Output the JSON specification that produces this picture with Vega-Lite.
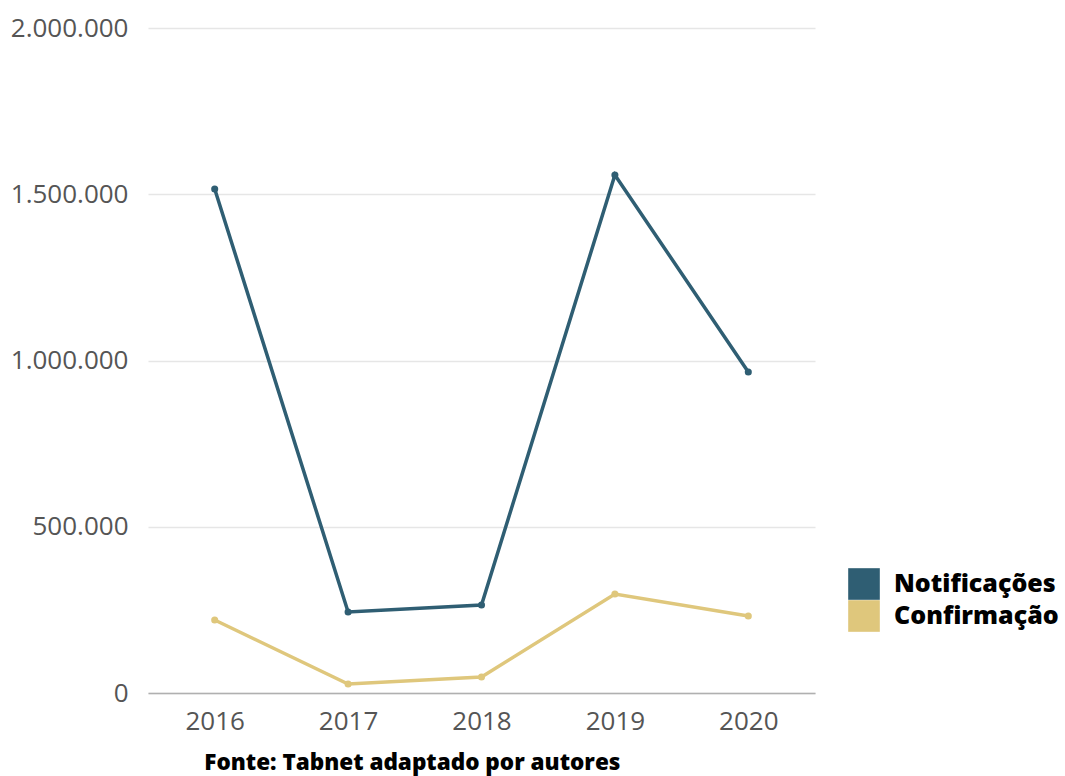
{
  "$schema": "https://vega.github.io/schema/vega-lite/v6.json",
  "width": 667,
  "height": 665,
  "autosize": "none",
  "padding": {"left": 148, "top": 28, "right": 250, "bottom": 83},
  "background": "white",
  "config": {
    "locale": {"number": {"decimal": ",", "thousands": ".", "grouping": [3], "currency": ["R$", ""]}},
    "font": "Open Sans",
    "view": {"stroke": null}
  },
  "title": {
    "text": "Fonte: Tabnet adaptado por autores",
    "orient": "bottom",
    "anchor": "start",
    "dx": 194,
    "offset": 18,
    "font": "Open Sans",
    "fontSize": 22.5,
    "fontWeight": 800,
    "color": "#000000"
  },
  "data": {
    "values": [
      {"ano": "2016", "serie": "Notificações", "valor": 1516000},
      {"ano": "2017", "serie": "Notificações", "valor": 243600},
      {"ano": "2018", "serie": "Notificações", "valor": 264700},
      {"ano": "2019", "serie": "Notificações", "valor": 1558000},
      {"ano": "2020", "serie": "Notificações", "valor": 965400},
      {"ano": "2016", "serie": "Confirmação", "valor": 219500},
      {"ano": "2017", "serie": "Confirmação", "valor": 27000},
      {"ano": "2018", "serie": "Confirmação", "valor": 48100},
      {"ano": "2019", "serie": "Confirmação", "valor": 297700},
      {"ano": "2020", "serie": "Confirmação", "valor": 231600}
    ]
  },
  "encoding": {
    "x": {
      "field": "ano", "type": "ordinal",
      "scale": {"type": "point", "padding": 0.5},
      "axis": {"title": null, "labelAngle": 0, "ticks": false, "domainColor": "#b0b0b0", "domainWidth": 1.5, "labelFontSize": 26, "labelColor": "#555555", "labelPadding": 15, "labelFont": "Open Sans", "grid": false}
    },
    "y": {
      "field": "valor", "type": "quantitative",
      "scale": {"domain": [0, 2000000], "nice": false},
      "axis": {"title": null, "values": [0, 500000, 1000000, 1500000, 2000000], "format": ",d", "domain": false, "ticks": false, "gridColor": "#e6e6e6", "gridWidth": 1.5, "labelFontSize": 26, "labelColor": "#555555", "labelPadding": 20, "labelFont": "Open Sans"}
    },
    "color": {
      "field": "serie", "type": "nominal",
      "scale": {"domain": ["Notificações", "Confirmação"], "range": ["#2f5e73", "#dfc77c"]},
      "legend": {
        "title": null, "orient": "none", "legendX": 700, "legendY": 540,
        "symbolType": "square", "symbolSize": 1000, "symbolStrokeWidth": 0, "symbolOpacity": 1,
        "labelFontSize": 25, "labelFontWeight": 800, "labelColor": "#000000", "labelFont": "Open Sans",
        "labelLimit": 400, "rowPadding": 0, "labelOffset": 14
      }
    }
  },
  "layer": [
    {"mark": {"type": "line", "strokeWidth": 3.5}},
    {"mark": {"type": "point", "filled": true, "size": 50, "opacity": 1}}
  ]
}
